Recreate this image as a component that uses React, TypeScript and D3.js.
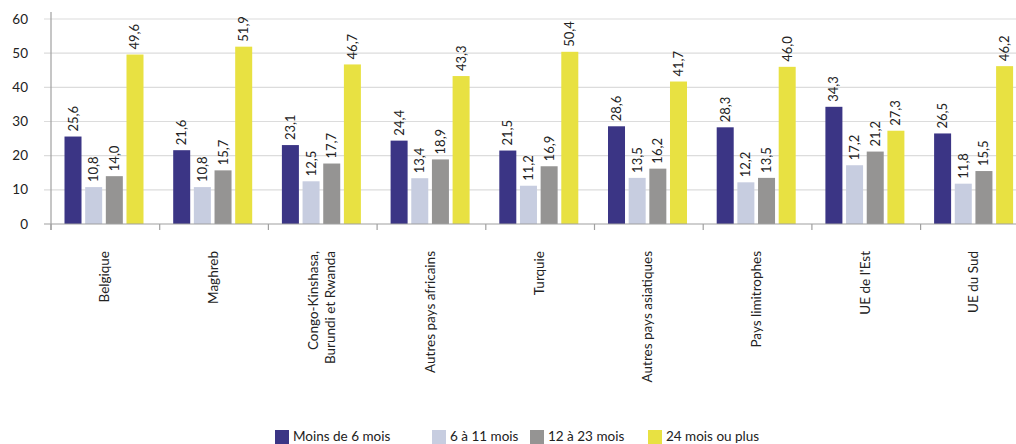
import React from "react";
import * as d3 from "d3";

const categories = [
  ["Belgique"],
  ["Maghreb"],
  ["Congo-Kinshasa,", "Burundi et Rwanda"],
  ["Autres pays africains"],
  ["Turquie"],
  ["Autres pays asiatiques"],
  ["Pays limitrophes"],
  ["UE de l'Est"],
  ["UE du Sud"],
];
const seriesNames = ["Moins de 6 mois", "6 à 11 mois", "12 à 23 mois", "24 mois ou plus"];
const moins6 = [25.6, 21.6, 23.1, 24.4, 21.5, 28.6, 28.3, 34.3, 26.5];
const de6a11 = [10.8, 10.8, 12.5, 13.4, 11.2, 13.5, 12.2, 17.2, 11.8];
const de12a23 = [14.0, 15.7, 17.7, 18.9, 16.9, 16.2, 13.5, 21.2, 15.5];
const plus24 = [49.6, 51.9, 46.7, 43.3, 50.4, 41.7, 46.0, 27.3, 46.2];
const yTicks = [0, 10, 20, 30, 40, 50, 60];
const colors = ["#3b3585", "#c7cde0", "#959493", "#e8e142"];

const seriesValues = [moins6, de6a11, de12a23, plus24];
const fmt = (v: number) => v.toFixed(1).replace(".", ",");
const FONT = "Lato, 'Open Sans', sans-serif";

export default function App() {
  const W = 1016, H = 444;
  const left = 51, bandW = 108.7;
  const x0 = d3.scaleBand<number>()
    .domain(categories.map((_, i) => i))
    .range([left, left + bandW * categories.length])
    .paddingInner(0).paddingOuter(0);
  const x1 = d3.scaleBand<number>()
    .domain([0, 1, 2, 3])
    .range([13.5, 92.5])
    .paddingInner(0.177);
  const y = d3.scaleLinear().domain([0, 60]).range([224, 19]);

  return (
    <svg width={W} height={H} style={{ position: "absolute", left: 0, top: 0, background: "#fff" }} fontFamily={FONT}>
      {yTicks.filter(t => t > 0).map(t => (
        <line key={t} x1={44} x2={W} y1={y(t)} y2={y(t)} stroke="#dcdcdc" strokeWidth={1.2} />
      ))}
      {yTicks.map(t => (
        <text key={t} x={28} y={y(t) + 4.5} textAnchor="end" fontSize={13.5} fill="#222">{t}</text>
      ))}
      {categories.map((_, i) => (
        <g key={i}>
          {seriesValues.map((vals, s) => {
            const bx = (x0(i) as number) + (x1(s) as number);
            const bw = x1.bandwidth();
            const v = vals[i];
            return (
              <g key={s}>
                <rect x={bx} y={y(v)} width={bw} height={y(0) - y(v)} fill={colors[s]} />
                <text transform={`translate(${bx + bw / 2 + 4.5},${y(v) - 5}) rotate(-90)`} fontSize={13} fill="#222">{fmt(v)}</text>
              </g>
            );
          })}
        </g>
      ))}
      <line x1={44} x2={W} y1={y(0)} y2={y(0)} stroke="#a0a0a0" strokeWidth={1.2} />
      <line x1={left} x2={left} y1={12} y2={230} stroke="#a0a0a0" strokeWidth={1.2} />
      {categories.map((_, i) => (
        <line key={i} x1={x0(i) as number} x2={x0(i) as number} y1={y(0)} y2={230} stroke="#a0a0a0" strokeWidth={1.2} />
      ))}
      {categories.map((lines, i) => {
        const cx = (x0(i) as number) + bandW / 2 - 1;
        return lines.map((ln, k) => {
          const off = (k - (lines.length - 1) / 2) * 17;
          return (
            <text key={`${i}-${k}`} transform={`translate(${cx + off + 4.5},251) rotate(-90)`} textAnchor="end" fontSize={13.5} fill="#222">{ln}</text>
          );
        });
      })}
      {seriesNames.map((n, s) => {
        const lx = [275, 432, 530, 648][s];
        return (
          <g key={n}>
            <rect x={lx} y={430} width={14} height={14} fill={colors[s]} />
            <text x={lx + 18} y={441} fontSize={13.5} fill="#222">{n}</text>
          </g>
        );
      })}
    </svg>
  );
}
